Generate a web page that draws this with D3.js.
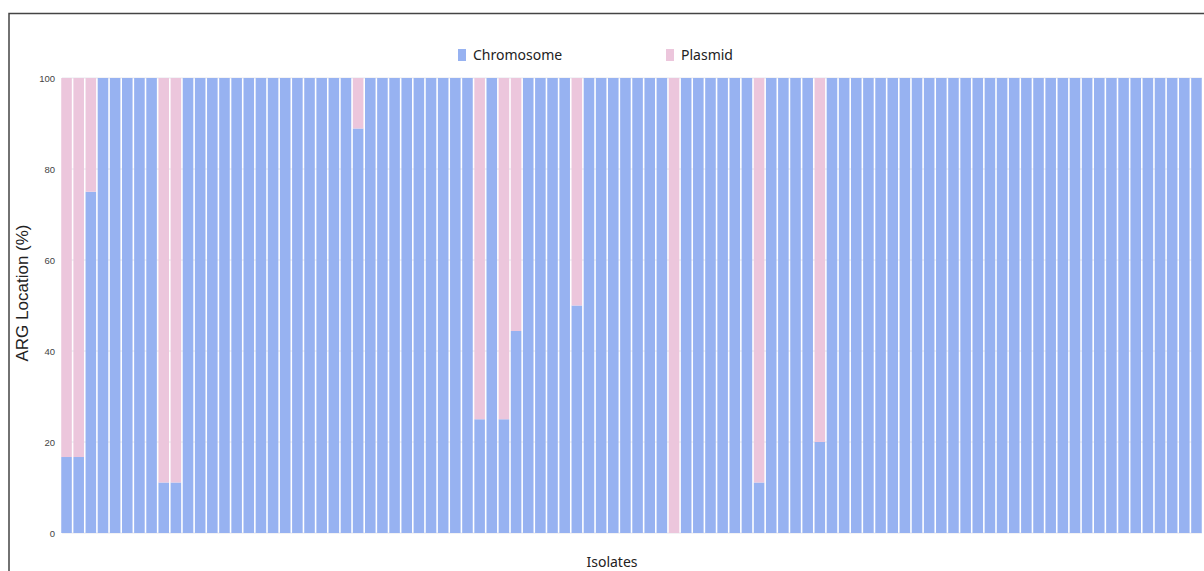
<!DOCTYPE html>
<html>
<head>
<meta charset="utf-8">
<script src="https://cdn.jsdelivr.net/npm/d3@7"></script>
<style>
  html, body { margin: 0; padding: 0; background: #fff; }
  svg { display: block; }
</style>
</head>
<body>
<svg id="chart" width="1204" height="571"></svg>
<script>
// Chromosome share (%) per isolate; plasmid share = 100 - chromosome
const chromosome = [
  16.7, 16.7, 75, 100, 100, 100, 100, 100, 11.1, 11.1,
  100, 100, 100, 100, 100, 100, 100, 100, 100, 100,
  100, 100, 100, 100, 88.9, 100, 100, 100, 100, 100,
  100, 100, 100, 100, 25, 100, 25, 44.4, 100, 100,
  100, 100, 50, 100, 100, 100, 100, 100, 100, 100,
  0, 100, 100, 100, 100, 100, 100, 11.1, 100, 100,
  100, 100, 20, 100, 100, 100, 100, 100, 100, 100,
  100, 100, 100, 100, 100, 100, 100, 100, 100, 100,
  100, 100, 100, 100, 100, 100, 100, 100, 100, 100,
  100, 100, 100, 100
];
const plasmid = chromosome.map(v => 100 - v);
const isolates = chromosome.map((_, i) => "Isolate " + (i + 1));
const seriesNames = ["Chromosome", "Plasmid"];
const yTicks = [0, 20, 40, 60, 80, 100];

const colors = { Chromosome: "#97b2f1", Plasmid: "#ecc6dc" };

const svg = d3.select("#chart");

// frame (left & top edges)
svg.append("path")
  .attr("d", "M9,571 L9,13.5 L1204,13.5")
  .attr("fill", "none").attr("stroke", "#444").attr("stroke-width", 1.5);

const x = d3.scaleBand().domain(isolates).range([61, 1202]).paddingInner(0.13).paddingOuter(0.02);
const y = d3.scaleLinear().domain([0, 100]).range([533, 78]);

// gridlines
svg.append("g").selectAll("line").data(yTicks).join("line")
  .attr("x1", 62).attr("x2", 1202)
  .attr("y1", d => y(d)).attr("y2", d => y(d))
  .attr("stroke", "#e6e6ec").attr("stroke-width", 1);

const table = isolates.map((id, i) => ({ id, Chromosome: chromosome[i], Plasmid: plasmid[i] }));
const stack = d3.stack().keys(seriesNames)(table);

svg.append("g").selectAll("g").data(stack).join("g")
  .attr("fill", d => colors[d.key])
  .selectAll("rect").data(d => d.filter(p => p[1] - p[0] > 0)).join("rect")
  .attr("x", d => x(d.data.id))
  .attr("width", x.bandwidth())
  .attr("y", d => y(d[1]))
  .attr("height", d => y(d[0]) - y(d[1]));

// y axis labels
const yAxis = d3.axisLeft(y).tickValues(yTicks).tickSize(0).tickPadding(6);
const ya = svg.append("g").attr("transform", "translate(61,0)").call(yAxis);
ya.select(".domain").remove();
ya.selectAll("text").attr("font-family", "Liberation Sans, Arial, sans-serif")
  .attr("font-size", 9.5).attr("fill", "#444");

// axis titles
svg.append("text")
  .attr("transform", "translate(28,293) rotate(-90)")
  .attr("text-anchor", "middle")
  .attr("font-family", "Liberation Sans, Arial, sans-serif")
  .attr("font-size", 17).attr("fill", "#222")
  .text("ARG Location (%)");

svg.append("text")
  .attr("x", 612).attr("y", 567)
  .attr("text-anchor", "middle")
  .attr("font-family", "Noto Sans, sans-serif")
  .attr("font-size", 14).attr("fill", "#222")
  .text("Isolates");

// legend
const legendX = { Chromosome: 458, Plasmid: 666 };
const lg = svg.append("g").selectAll("g").data(seriesNames).join("g")
  .attr("transform", d => `translate(${legendX[d]},49)`);
lg.append("rect").attr("width", 8).attr("height", 12).attr("fill", d => colors[d]);
lg.append("text").attr("x", 15).attr("y", 11)
  .attr("font-family", "Noto Sans, sans-serif")
  .attr("font-size", 14).attr("fill", "#222")
  .text(d => d);
</script>
</body>
</html>
